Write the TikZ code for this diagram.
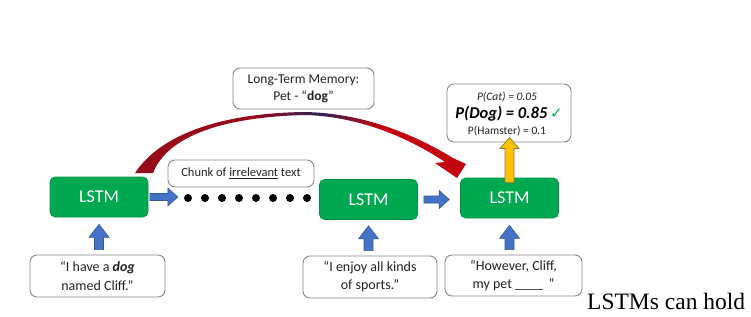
\documentclass[tikz,border=0pt]{standalone}
\usepackage{fontspec}
\setmainfont{Carlito}
\newfontfamily\timesf{Liberation Serif}
\newfontfamily\symf{DejaVu Sans}
\usetikzlibrary{calc}
\definecolor{lstmgreen}{RGB}{0,168,80}
\definecolor{arrowblue}{RGB}{68,114,196}
\definecolor{arrowblueline}{RGB}{52,88,160}
\definecolor{arrowyellow}{RGB}{255,192,0}
\definecolor{arrowyellowline}{RGB}{140,120,70}
\definecolor{boxgray}{RGB}{135,135,135}
\definecolor{textdark}{RGB}{35,35,35}
\definecolor{checkgreen}{RGB}{0,176,80}
\definecolor{mredA}{RGB}{150,10,25}
\definecolor{mnavy}{RGB}{45,35,85}
\definecolor{mredB}{RGB}{195,5,15}
\pgfdeclarehorizontalshading{memshade}{100bp}{color(0bp)=(mredA); color(25bp)=(mredA); color(43bp)=(mredA); color(53bp)=(mnavy); color(62bp)=(mredB); color(75bp)=(mredB); color(100bp)=(mredB)}
\begin{document}
\begin{tikzpicture}[x=1pt,y=-1pt,
  lstm/.style={draw=lstmgreen!85!black, line width=0.6pt, fill=lstmgreen, rounded corners=5pt,
    minimum width=98pt, minimum height=40pt, inner sep=0pt, text=white,
    font=\fontsize{18}{20}\selectfont},
  wbox/.style={draw=boxgray, line width=0.9pt, fill=white, rounded corners=7pt, inner sep=0pt,
    align=center, text=textdark},
  dot/.style={circle, fill=black, minimum size=8pt, inner sep=0pt},
  hblock/.style n args={3}{to path={let \p1=(\tikztostart), \p2=(\tikztotarget) in
    (\x1,\y1+#1) -- (\x2-#3,\y1+#1) -- (\x2-#3,\y1+#2) -- (\x2,\y1) -- (\x2-#3,\y1-#2)
    -- (\x2-#3,\y1-#1) -- (\x1,\y1-#1) -- cycle}},
  vblock/.style n args={3}{to path={let \p1=(\tikztostart), \p2=(\tikztotarget) in
    (\x1-#1,\y1) -- (\x1-#1,\y2-#3) -- (\x1-#2,\y2-#3) -- (\x1,\y2) -- (\x1+#2,\y2-#3)
    -- (\x1+#1,\y2-#3) -- (\x1+#1,\y1) -- cycle}},
  bluearrow/.style={fill=arrowblue, draw=arrowblueline, line width=0.6pt},
  yellowarrow/.style={fill=arrowyellow, draw=arrowyellowline, line width=0.7pt},
  memarrow/.style={shading=memshade}
]
\useasboundingbox (0,0) rectangle (751,316);
\fill[white] (0,0) rectangle (751,316);

% LSTM cells
\node[lstm] (lstm1) at (99,197) {LSTM};
\node[lstm] (lstm2) at (368.5,199.5) {LSTM};
\node[lstm] (lstm3) at (509.5,198) {LSTM};

% dots
\foreach \i in {1,...,8} {
  \node[dot] (d\i) at ({188+17*(\i-1)},198) {};
}

% text boxes
\node[wbox, minimum width=146pt, minimum height=27pt, font=\fontsize{12.5}{15}\selectfont]
  (chunk) at (241,173.5) {Chunk of \underline{irrelevant} text};
\node[wbox, minimum width=141pt, minimum height=41pt, font=\fontsize{13.5}{17}\selectfont]
  (mem) at (303.5,88.5) {Long-Term Memory:\\Pet - “\textbf{dog}”};
\node[wbox, minimum width=124pt, minimum height=58pt] (prob) at (509,113) {};
\node[text=textdark, inner sep=0pt, font=\fontsize{11.5}{13}\selectfont\itshape]
  (pcat) at (507,97) {P(Cat) = 0.05};
\node[text=black, inner sep=0pt, font=\fontsize{16.5}{18}\selectfont\bfseries\itshape]
  (pdog) at (509,114) {P(Dog) = 0.85\,{\symf\mdseries\upshape\fontsize{15}{15}\selectfont\color{checkgreen}✓}};
\node[text=textdark, inner sep=0pt, font=\fontsize{11.5}{13}\selectfont]
  (pham) at (507,131) {P(Hamster) = 0.1};

\node[wbox, minimum width=135pt, minimum height=42pt, font=\fontsize{14}{18}\selectfont]
  (in1) at (97.5,276) {“I have a \textbf{\textit{dog}}\\named Cliff.”};
\node[wbox, minimum width=134pt, minimum height=42pt, font=\fontsize{14}{18}\selectfont]
  (in2) at (370,277) {“I enjoy all kinds\\of sports.”};
\node[wbox, minimum width=137pt, minimum height=41pt, font=\fontsize{14}{18}\selectfont]
  (in3) at (513.5,275.5) {“However, Cliff,\\my pet \_\_\_\_\ \,”};

\node[anchor=base west, inner sep=0pt, font=\timesf\fontsize{23.5}{26}\selectfont]
  (caption) at (587,309) {LSTMs can hold};

% connector end points
\coordinate[xshift=1.5pt] (h1s) at (lstm1.east);
\coordinate[xshift=-6pt] (h1e) at (d1.west);
\coordinate[xshift=6pt] (h2s) at (lstm2.east);
\coordinate[xshift=-11pt] (h2e) at (lstm3.west);
\coordinate[yshift=5pt] (v1s) at (lstm1.south |- in1.north);
\coordinate[yshift=-7pt] (v1e) at (lstm1.south);
\coordinate[yshift=5pt] (v2s) at (lstm2.south |- in2.north);
\coordinate[yshift=-6pt] (v2e) at (lstm2.south);
\coordinate[yshift=5pt] (v3s) at (lstm3.south |- in3.north);
\coordinate[yshift=-7pt] (v3e) at (lstm3.south);
\coordinate[yshift=-5pt] (y1s) at (lstm3.north);
\coordinate[yshift=5pt] (y1e) at (lstm3.north |- prob.south);

% blue block arrows
\draw[bluearrow, hblock={3.5pt}{9pt}{10pt}] (h1s) to (h1e);
\draw[bluearrow, hblock={3.5pt}{9pt}{10pt}] (h2s) to (h2e);
\draw[bluearrow, vblock={4.5pt}{10pt}{13pt}] (v1s) to (v1e);
\draw[bluearrow, vblock={4.5pt}{10pt}{13pt}] (v2s) to (v2e);
\draw[bluearrow, vblock={4.5pt}{10pt}{13pt}] (v3s) to (v3e);
% yellow output arrow
\draw[yellowarrow, vblock={4.5pt}{9.5pt}{11pt}] (y1s) to (y1e);

% long-term memory arrow
\shade[memarrow]
  (135,173) .. controls (160,135) and (220,113) .. (305,112)
  .. controls (352,113) and (402,127) .. (453,158)
  -- (466,164) -- (457,178) -- (435,163) -- (445,162)
  .. controls (397,130) and (347,116) .. (305,115)
  .. controls (225,117) and (168,135) .. (153,173) -- cycle;
\end{tikzpicture}
\end{document}
